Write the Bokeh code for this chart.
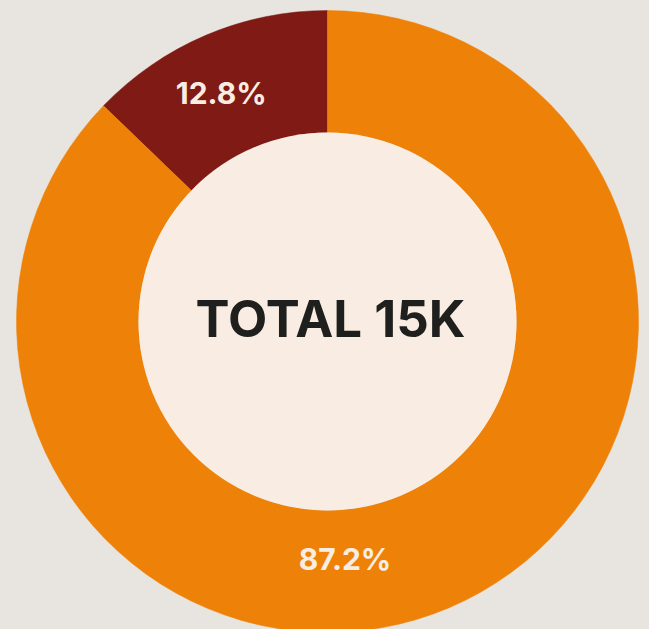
import math
from bokeh.plotting import figure
from bokeh.models import ColumnDataSource
from bokeh.core.properties import value
from bokeh.embed import file_html
from bokeh.resources import INLINE

# ---- data ----
categories = ["Other", "Main"]
shares = [12.8, 87.2]
labels = ["12.8%", "87.2%"]
colors = ["#7f1a14", "#ee8208"]
center_label = "TOTAL 15K"

BG = "#e8e4df"
INNER = "#f9ede3"

W, H = 649, 629
p = figure(width=W, height=H, output_backend="svg", toolbar_location=None,
           x_range=(-327, 322), y_range=(-308, 321), min_border=0,
           background_fill_color=BG, border_fill_color=BG)
p.axis.visible = False
p.grid.visible = False
p.outline_line_color = None

R_OUT, R_IN = 311, 189
total = sum(shares)
starts, ends = [], []
a = math.pi / 2
for s in shares:
    starts.append(a)
    a += 2 * math.pi * s / total
    ends.append(a)

src = ColumnDataSource(dict(cat=categories, start=starts, end=ends, color=colors))
p.annular_wedge(x=0, y=0, inner_radius=R_IN, outer_radius=R_OUT,
                start_angle="start", end_angle="end", fill_color="color",
                line_color="color", line_width=0.5, source=src)
p.circle(x=[0], y=[0], radius=R_IN, fill_color=INNER, line_color=None)

# label placement (style)
lab_angles = [(starts[0] + ends[0]) / 2 + math.radians(2), math.radians(274.2)]
lab_r = [251, 239]
lx = [r * math.cos(t) for r, t in zip(lab_r, lab_angles)]
ly = [r * math.sin(t) for r, t in zip(lab_r, lab_angles)]
p.text(x=lx, y=ly, text=labels, text_font=value("Inter"), text_font_style="bold",
       text_font_size="30px", text_color=INNER, text_align="center",
       text_baseline="middle", y_offset=-1)

p.text(x=[0], y=[0], text=[center_label], text_font=value("Inter"),
       text_font_style="bold", text_font_size="51px", text_color="#1f1f1d",
       text_align="center", text_baseline="middle", x_offset=3, y_offset=-3)

html = file_html(p, INLINE)
html = html.replace("<head>", "<head><style>html,body{background:%s;}</style>" % BG, 1)
open("out.html", "w").write(html)
